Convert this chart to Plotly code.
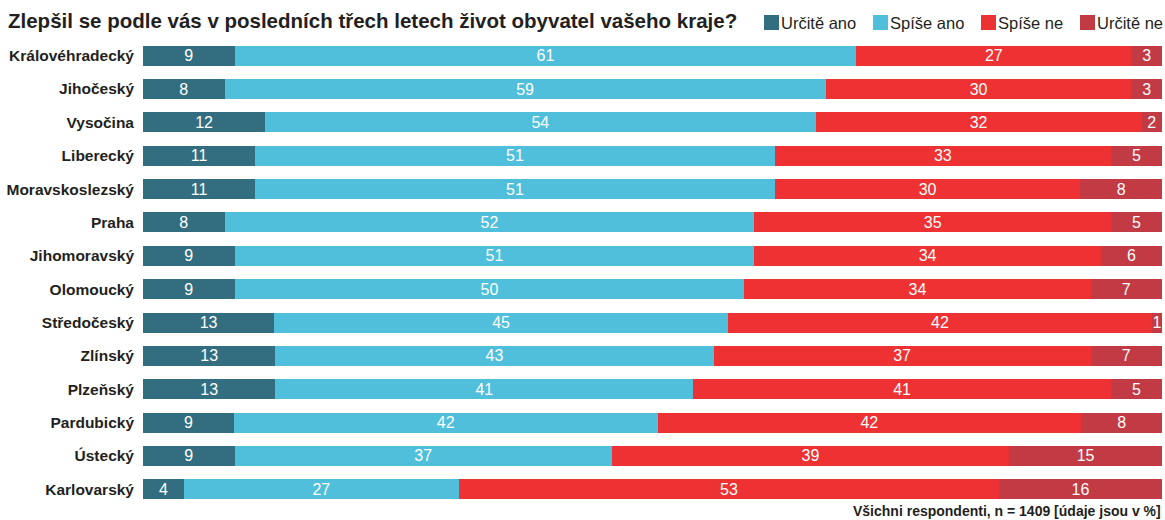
import plotly.graph_objects as go

regions = ["Královéhradecký", "Jihočeský", "Vysočina", "Liberecký", "Moravskoslezský",
           "Praha", "Jihomoravský", "Olomoucký", "Středočeský", "Zlínský", "Plzeňský",
           "Pardubický", "Ústecký", "Karlovarský"]
series_names = ["Určitě ano", "Spíše ano", "Spíše ne", "Určitě ne"]
urcite_ano = [9, 8, 12, 11, 11, 8, 9, 9, 13, 13, 13, 9, 9, 4]
spise_ano = [61, 59, 54, 51, 51, 52, 51, 50, 45, 43, 41, 42, 37, 27]
spise_ne = [27, 30, 32, 33, 30, 35, 34, 34, 42, 37, 41, 42, 39, 53]
urcite_ne = [3, 3, 2, 5, 8, 5, 6, 7, 1, 7, 5, 8, 15, 16]
values = [urcite_ano, spise_ano, spise_ne, urcite_ne]
colors = ["#336e80", "#50bfdb", "#ee3233", "#c13a44"]

title_text = "Zlepšil se podle vás v posledních třech letech život obyvatel vašeho kraje?"
footer_text = "Všichni respondenti, n = 1409 [údaje jsou v %]"

W, H = 1165, 520
L, R, T, B = 143, 3, 39, 14
pw, ph = W - L - R, H - T - B

def px_x(px):
    return (px - L) / pw

def px_y(py):
    return (H - B - py) / ph

FONT = "Liberation Sans, Arial"

fig = go.Figure()
for name, vals, col in zip(series_names, values, colors):
    fig.add_trace(go.Bar(
        y=regions, x=vals, name=name, orientation="h",
        marker=dict(color=col, line=dict(width=0)),
        text=[str(v) for v in vals], textposition="inside", textangle=0,
        insidetextanchor="middle", constraintext="none",
        textfont=dict(color="white", size=16, family=FONT),
        cliponaxis=False, showlegend=False, hoverinfo="skip",
    ))

legend_starts = [764, 873, 981, 1080]
shapes = []
annotations = []
for name, col, sx in zip(series_names, colors, legend_starts):
    shapes.append(dict(type="rect", xref="paper", yref="paper",
                       x0=px_x(sx), x1=px_x(sx + 15), y0=px_y(30), y1=px_y(15),
                       fillcolor=col, line=dict(width=0)))
    annotations.append(dict(xref="paper", yref="paper", x=px_x(sx + 15), y=px_y(23),
                            xanchor="left", yanchor="middle", showarrow=False,
                            text=name, font=dict(size=16.5, color="#231f20", family=FONT)))

annotations.append(dict(xref="paper", yref="paper", x=px_x(1163), y=px_y(511),
                        xanchor="right", yanchor="middle", showarrow=False,
                        text="<b>" + footer_text + "</b>",
                        font=dict(size=14, color="#231f20", family=FONT)))

fig.update_layout(
    width=W, height=H,
    barmode="stack", barnorm="percent", bargap=0.4,
    margin=dict(l=L, r=R, t=T, b=B, autoexpand=False),
    paper_bgcolor="white", plot_bgcolor="white",
    title=dict(text="<b>" + title_text + "</b>", xref="container", yref="container",
               x=8 / W, y=1 - 21 / H, xanchor="left", yanchor="middle",
               font=dict(size=20.5, color="#231f20", family=FONT)),
    xaxis=dict(range=[0, 100], visible=False, fixedrange=True),
    yaxis=dict(categoryorder="array", categoryarray=regions, autorange="reversed",
               showgrid=False, zeroline=False, showline=False, ticks="",
               ticklabelstandoff=8, automargin=False, fixedrange=True,
               tickfont=dict(size=15.5, color="#231f20", family=FONT, weight="bold")),
    uniformtext=dict(minsize=16, mode="show"),
    shapes=shapes, annotations=annotations,
    hovermode=False,
)

fig.write_html(
    "out.html",
    config={"displayModeBar": False, "staticPlot": True},
    post_script="document.body.style.margin='0';document.documentElement.style.overflow='hidden';",
)
